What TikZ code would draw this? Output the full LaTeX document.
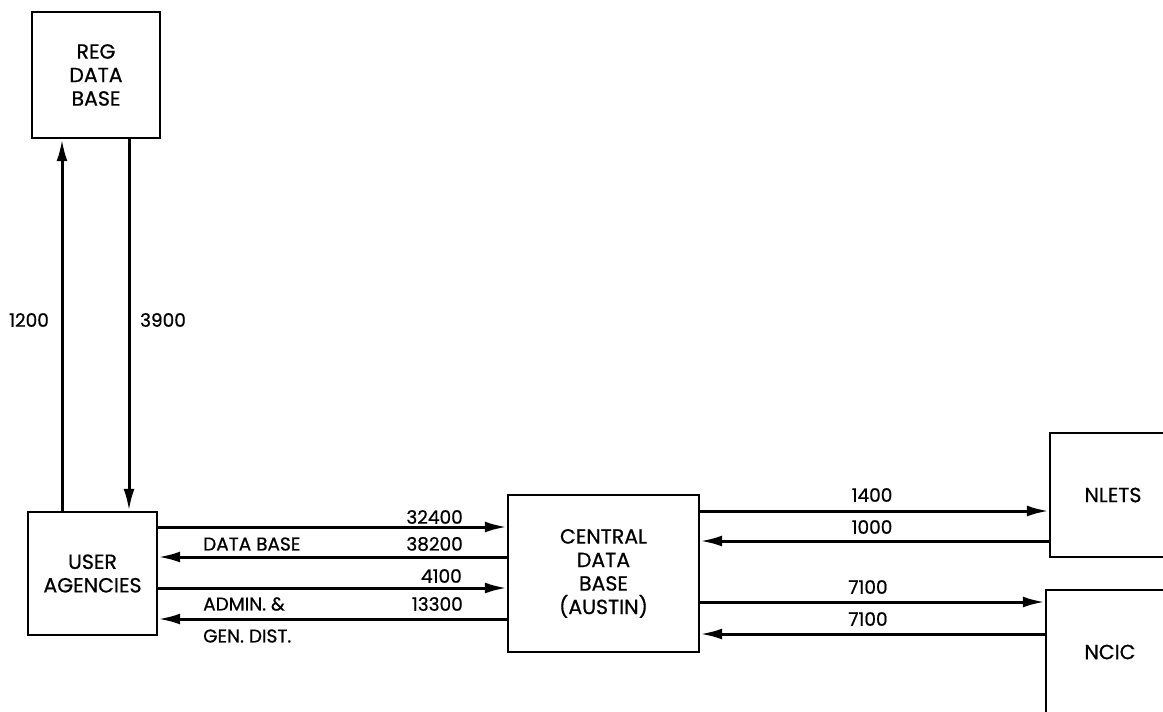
\documentclass[tikz,border=0pt]{standalone}
\usepackage{fontspec}
\setmainfont{Poppins}[FakeBold=0.7]
\usetikzlibrary{arrows.meta}
\begin{document}
\begin{tikzpicture}[x=1pt,y=-1pt,
  box/.style={draw,line width=2.4pt,rectangle,inner sep=0pt,align=center,
    font=\fontsize{20.5}{23.5}\selectfont},
  flow/.style={line width=3pt,-{Latex[length=22pt,width=11pt]}},
  lbl/.style={inner sep=0pt,font=\fontsize{18.5}{20}\selectfont},
]
\clip (0,0) rectangle (1163,712);
\fill[white] (0,0) rectangle (1163,712);
% boxes
\node[box,minimum width=128pt,minimum height=126pt] (reg) at (96,75) {REG\\DATA\\BASE};
\node[box,minimum width=129pt,minimum height=123pt] (user) at (92.5,573.5) {USER\\AGENCIES};
\node[box,minimum width=191pt,minimum height=157pt] (central) at (603.5,573.5) {CENTRAL\\DATA\\BASE\\(AUSTIN)};
\node[box,minimum width=126pt,minimum height=124pt] (nlets) at (1113,495) {NLETS};
\node[box,minimum width=128pt,minimum height=124pt] (ncic) at (1110,652) {NCIC};
% guide coordinates for connector positions
\coordinate (vu) at (62,0);
\coordinate (vd) at (129,0);
\coordinate (h1) at (0,527);
\coordinate (h2) at (0,557);
\coordinate (h3) at (0,588);
\coordinate (h4) at (0,619);
\coordinate (r1) at (0,511);
\coordinate (r2) at (0,541);
\coordinate (r3) at (0,602);
\coordinate (r4) at (0,634);
% vertical connectors
\draw[flow] (vu |- user.north) -- (vu |- reg.south);
\draw[flow] (vd |- reg.south) -- (vd |- user.north);
% user <-> central
\draw[flow] (user.east |- h1) -- (central.west |- h1);
\draw[flow] (central.west |- h2) -- (user.east |- h2);
\draw[flow] (user.east |- h3) -- (central.west |- h3);
\draw[flow] (central.west |- h4) -- (user.east |- h4);
% central <-> nlets / ncic
\draw[flow] (central.east |- r1) -- (nlets.west |- r1);
\draw[flow] (nlets.west |- r2) -- (central.east |- r2);
\draw[flow] (central.east |- r3) -- (ncic.west |- r3);
\draw[flow] (ncic.west |- r4) -- (central.east |- r4);
% labels
\node[lbl] (l1200) at (29,320) {1200};
\node[lbl] (l3900) at (163,320) {3900};
\node[lbl,anchor=east] (l32400) at (463,517) {32400};
\node[lbl,anchor=west] (ldb) at (203,544) {DATA BASE};
\node[lbl,anchor=east] (l38200) at (463,544) {38200};
\node[lbl,anchor=east] (l4100) at (462,576) {4100};
\node[lbl,anchor=west] (ladm) at (203,604) {ADMIN. \&};
\node[lbl,anchor=east] (l13300) at (463,604) {13300};
\node[lbl,anchor=west] (lgen) at (203,636) {GEN. DIST.};
\node[lbl] (l1400) at (872,495) {1400};
\node[lbl] (l1000) at (872,527) {1000};
\node[lbl] (l7100a) at (868,587) {7100};
\node[lbl] (l7100b) at (868,619) {7100};
\end{tikzpicture}
\end{document}
